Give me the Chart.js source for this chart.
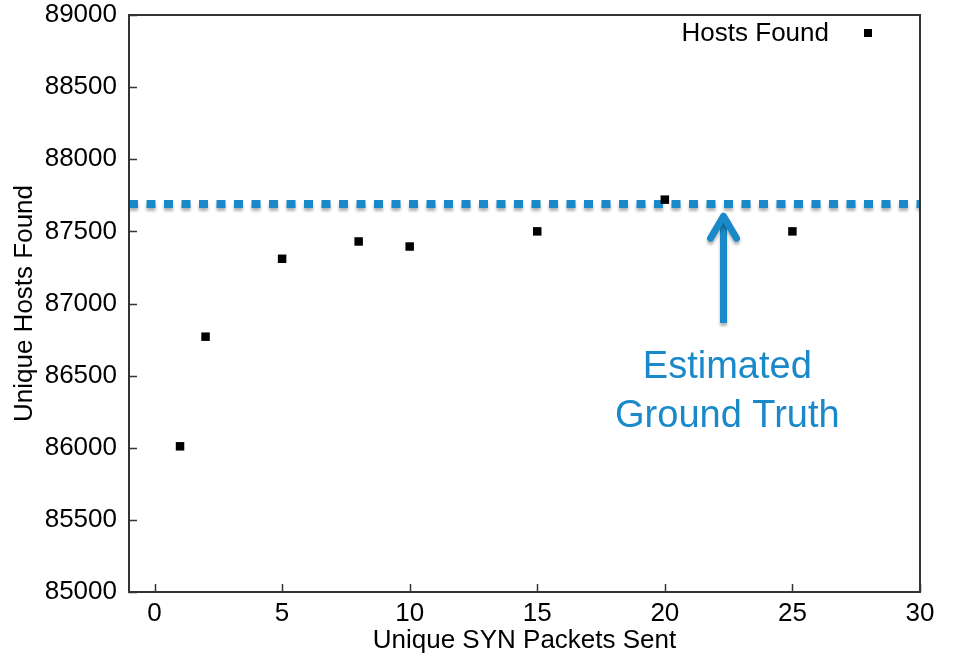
<!DOCTYPE html>
<html>
<head>
<meta charset="utf-8">
<script src="https://cdn.jsdelivr.net/npm/chart.js@4.4.0/dist/chart.umd.min.js"></script>
<style>
  html, body { margin: 0; padding: 0; background: #fff; }
  canvas { display: block; }
</style>
</head>
<body>
<canvas id="chart" width="957" height="656"></canvas>
<script>
// data
const packetsSent = [1, 2, 5, 8, 10, 15, 20, 25];
const hostsFound = [86010, 86770, 87310, 87430, 87395, 87500, 87720, 87500];
const groundTruth = 87690;
const xTickValues = [0, 5, 10, 15, 20, 25, 30];
const yTickValues = [85000, 85500, 86000, 86500, 87000, 87500, 88000, 88500, 89000];
const seriesLabel = 'Hosts Found';
const noteLines = ['Estimated', 'Ground Truth'];
const noteX = 22.45;
const noteY = [86483, 86143];
const arrowX = 22.3;
const arrowFrom = 86865;
const arrowTo = 87640;

const BLUE = '#1a89c9';
const FONT = 'Liberation Sans, Arial, Helvetica, sans-serif';

// box, inward ticks, legend and the blue note
const decor = {
  id: 'decor',
  beforeDatasetDraw(chart, args) {
    if (args.index === 1) {
      const ctx = chart.ctx;
      ctx.save();
      ctx.shadowColor = 'rgba(0,0,0,0.3)';
      ctx.shadowBlur = 3;
      ctx.shadowOffsetY = 3;
    }
  },
  afterDatasetDraw(chart, args) {
    if (args.index === 1) chart.ctx.restore();
  },
  afterDraw(chart) {
    const ctx = chart.ctx;
    const a = chart.chartArea;
    const xs = chart.scales.x, ys = chart.scales.y;
    ctx.save();
    ctx.strokeStyle = '#333';
    ctx.lineWidth = 2;
    ctx.strokeRect(a.left, a.top, a.right - a.left, a.bottom - a.top);
    ctx.lineWidth = 1.5;
    ctx.beginPath();
    xTickValues.forEach(v => {
      const px = Math.round(xs.getPixelForValue(v)) + 0.5;
      ctx.moveTo(px, a.bottom);
      ctx.lineTo(px, a.bottom - 8);
    });
    yTickValues.forEach(v => {
      const py = Math.round(ys.getPixelForValue(v)) + 0.5;
      ctx.moveTo(a.left, py);
      ctx.lineTo(a.left + 8, py);
    });
    ctx.stroke();

    // legend
    ctx.fillStyle = '#000';
    ctx.font = '26px ' + FONT;
    ctx.textAlign = 'right';
    ctx.textBaseline = 'middle';
    ctx.fillText(chart.data.datasets[0].label, a.right - 91, a.top + 19);
    ctx.fillRect(a.right - 56, a.top + 14, 8, 8);

    // arrow
    const ax = xs.getPixelForValue(arrowX);
    const y0 = ys.getPixelForValue(arrowFrom);
    const y1 = ys.getPixelForValue(arrowTo);
    ctx.shadowColor = 'rgba(0,0,0,0.3)';
    ctx.shadowBlur = 3;
    ctx.shadowOffsetY = 3;
    ctx.strokeStyle = BLUE;
    ctx.fillStyle = BLUE;
    ctx.lineWidth = 7;
    ctx.lineCap = 'butt';
    ctx.beginPath();
    ctx.moveTo(ax, y0);
    ctx.lineTo(ax, y1 + 8);
    ctx.stroke();
    ctx.lineCap = 'round';
    ctx.lineJoin = 'round';
    ctx.beginPath();
    ctx.moveTo(ax - 13, y1 + 27);
    ctx.lineTo(ax, y1 + 5);
    ctx.lineTo(ax + 13, y1 + 27);
    ctx.stroke();
    ctx.shadowColor = 'transparent';

    // note
    ctx.font = '38px ' + FONT;
    ctx.textAlign = 'center';
    ctx.textBaseline = 'alphabetic';
    noteLines.forEach((t, i) => {
      ctx.fillText(t, xs.getPixelForValue(noteX), ys.getPixelForValue(noteY[i]));
    });
    ctx.restore();
  }
};

new Chart(document.getElementById('chart'), {
  type: 'scatter',
  data: {
    datasets: [
      {
        label: seriesLabel,
        data: packetsSent.map((x, i) => ({ x: x, y: hostsFound[i] })),
        pointStyle: 'rect',
        pointRadius: 6,
        pointBorderWidth: 0,
        backgroundColor: '#000',
        borderColor: '#000'
      },
      {
        label: 'Estimated Ground Truth',
        type: 'line',
        data: [{ x: -1, y: groundTruth }, { x: 30, y: groundTruth }],
        borderColor: BLUE,
        borderWidth: 8,
        borderDash: [9, 8.5],
        pointRadius: 0,
        fill: false
      }
    ]
  },
  options: {
    responsive: false,
    animation: false,
    events: [],
    layout: { padding: { top: 15, right: 37, left: 0, bottom: 0 } },
    plugins: {
      legend: { display: false },
      tooltip: { enabled: false }
    },
    scales: {
      x: {
        type: 'linear',
        min: -1,
        max: 30,
        afterFit: s => { s.height = 64; },
        afterBuildTicks: s => { s.ticks = xTickValues.map(v => ({ value: v })); },
        grid: { display: false, drawTicks: false },
        border: { display: false },
        ticks: { padding: 6, color: '#000', font: { family: FONT, size: 26 } },
        title: {
          display: true,
          text: 'Unique SYN Packets Sent',
          color: '#000',
          font: { family: FONT, size: 26 },
          padding: { top: 0, bottom: 0 }
        }
      },
      y: {
        type: 'linear',
        min: 85000,
        max: 89000,
        afterFit: s => { s.width = 129; s.paddingTop = 0; s.paddingBottom = 0; },
        afterBuildTicks: s => { s.ticks = yTickValues.map(v => ({ value: v })); },
        grid: { display: false, drawTicks: false },
        border: { display: false },
        ticks: {
          padding: 12,
          color: '#000',
          font: { family: FONT, size: 26 },
          callback: v => String(v)
        },
        title: {
          display: true,
          text: 'Unique Hosts Found',
          color: '#000',
          font: { family: FONT, size: 26 },
          padding: { top: 9, bottom: 0 }
        }
      }
    }
  },
  plugins: [decor]
});
</script>
</body>
</html>
